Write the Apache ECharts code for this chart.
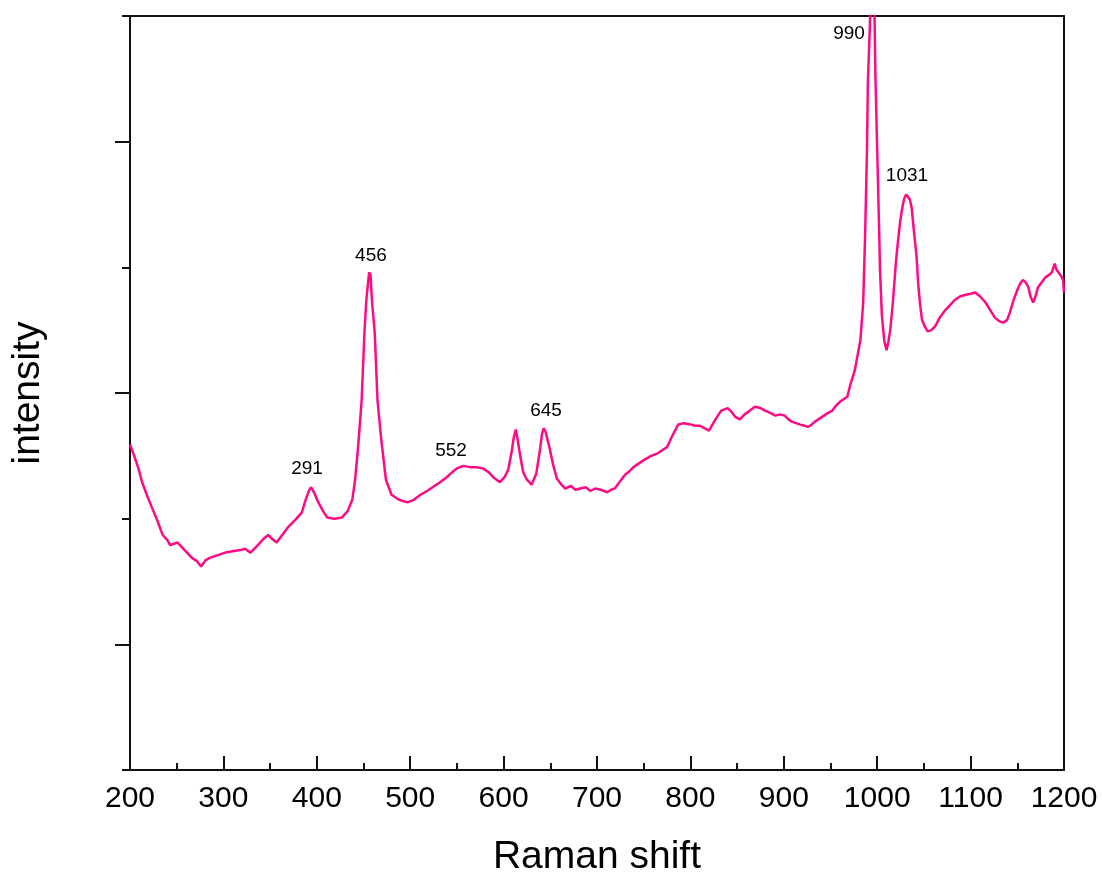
<!DOCTYPE html>
<html>
<head>
<meta charset="UTF-8">
<title>Raman spectrum</title>
<script src="https://cdn.jsdelivr.net/npm/echarts@6/dist/echarts.min.js"></script>
<style>
  html, body { margin: 0; padding: 0; background: #fff; }
  #chart { width: 1102px; height: 874px; }
</style>
</head>
<body>
<div id="chart"></div>
<script>
// Raman shift (cm-1) and intensity (arbitrary units, 0..6 on the plot)
var ramanShift = [200, 205, 209, 213, 219, 224, 229, 235, 240, 243, 247, 251, 256, 261, 266, 272, 276, 281, 286, 294,
  302, 310, 318, 323, 329, 337, 343, 348, 352, 357, 363, 369, 377, 384, 388, 392, 394, 397, 401, 406,
  411, 419, 427, 433, 438, 441, 444, 448, 451, 453, 456, 457.5, 459, 462, 465, 469, 474, 480, 488, 497,
  504, 511, 518, 524, 532, 539, 545, 550, 557, 564, 571, 578, 584, 589, 596, 601, 605, 609, 611, 613,
  615, 618, 621, 625, 630, 635, 639, 641, 643, 645, 649, 653, 657, 662, 666, 672, 677, 682, 688, 693,
  698, 704, 711, 715, 719, 725, 730, 735, 739, 745, 751, 758, 765, 771, 775, 780, 787, 793, 800, 805,
  810, 815, 820, 826, 833, 840, 844, 848, 853, 858, 862, 869, 875, 880, 886, 891, 896, 901, 905, 909,
  913, 917, 922, 926, 930, 933, 937, 941, 947, 952, 956, 960, 964, 968, 971, 976, 982, 985, 987, 989,
  990, 993, 995, 997, 998, 1000, 1002, 1003, 1005, 1007.5, 1010, 1012, 1014, 1017, 1020, 1022, 1024.5, 1027, 1029, 1031,
  1033, 1035, 1037, 1039, 1042, 1044, 1046, 1048, 1051, 1054, 1058, 1062, 1067, 1073, 1078, 1083, 1089, 1094, 1100, 1105,
  1110, 1116, 1121, 1126, 1131, 1135, 1139, 1142, 1146, 1150, 1153, 1156, 1159, 1162, 1164, 1167, 1170, 1172, 1176, 1180,
  1184, 1187, 1190, 1192, 1194, 1197, 1199, 1200];
var intensity = [2.59, 2.49, 2.40, 2.29, 2.17, 2.08, 1.99, 1.87, 1.83, 1.79, 1.80, 1.81, 1.77, 1.73, 1.69, 1.66, 1.62, 1.67, 1.69, 1.71,
  1.73, 1.74, 1.75, 1.76, 1.73, 1.79, 1.84, 1.87, 1.84, 1.81, 1.87, 1.93, 1.99, 2.05, 2.15, 2.23, 2.25, 2.21, 2.14, 2.07,
  2.01, 2.00, 2.01, 2.06, 2.15, 2.31, 2.55, 2.94, 3.48, 3.74, 3.96, 3.94, 3.74, 3.48, 2.94, 2.63, 2.31, 2.19, 2.15, 2.13,
  2.15, 2.19, 2.22, 2.25, 2.29, 2.33, 2.37, 2.40, 2.42, 2.41, 2.41, 2.40, 2.37, 2.33, 2.29, 2.33, 2.39, 2.55, 2.65, 2.71,
  2.63, 2.49, 2.37, 2.31, 2.27, 2.36, 2.55, 2.67, 2.72, 2.69, 2.57, 2.43, 2.32, 2.27, 2.24, 2.26, 2.23, 2.24, 2.25, 2.22,
  2.24, 2.23, 2.21, 2.23, 2.24, 2.30, 2.35, 2.38, 2.41, 2.44, 2.47, 2.50, 2.52, 2.55, 2.57, 2.65, 2.75, 2.76, 2.75, 2.74,
  2.74, 2.72, 2.70, 2.78, 2.86, 2.88, 2.85, 2.81, 2.79, 2.83, 2.85, 2.89, 2.88, 2.86, 2.84, 2.82, 2.83, 2.82, 2.79, 2.77,
  2.76, 2.75, 2.74, 2.73, 2.75, 2.77, 2.79, 2.81, 2.84, 2.86, 2.90, 2.93, 2.95, 2.97, 3.06, 3.18, 3.42, 3.72, 4.24, 4.91,
  5.47, 6.10, 6.60, 6.10, 5.55, 4.93, 4.32, 3.98, 3.62, 3.42, 3.34, 3.41, 3.50, 3.74, 4.04, 4.19, 4.36, 4.48, 4.55, 4.58,
  4.57, 4.54, 4.47, 4.31, 4.10, 3.86, 3.70, 3.58, 3.53, 3.49, 3.50, 3.53, 3.60, 3.66, 3.70, 3.74, 3.77, 3.78, 3.79, 3.80,
  3.77, 3.72, 3.66, 3.60, 3.57, 3.56, 3.58, 3.64, 3.74, 3.82, 3.87, 3.90, 3.88, 3.84, 3.77, 3.72, 3.78, 3.84, 3.88, 3.92,
  3.94, 3.96, 4.03, 3.98, 3.96, 3.93, 3.90, 3.80];

// peak annotations: [x, y, text]
var peakLabels = [
  [389.5, 2.40, '291'],
  [458, 4.09, '456'],
  [543.7, 2.54, '552'],
  [645.4, 2.86, '645'],
  [969.8, 5.86, '990'],
  [1031.9, 4.73, '1031']
];

var xTicks = [200, 300, 400, 500, 600, 700, 800, 900, 1000, 1100, 1200];

var chart = echarts.init(document.getElementById('chart'));
var font = 'Liberation Sans, Arial, sans-serif';
var axisColor = '#111';

var spectrum = ramanShift.map(function (x, i) { return [x, intensity[i]]; });

var option = {
    animation: false,
    backgroundColor: '#fff',
    grid: { left: 130, right: 38, top: 16, bottom: 104, outerBoundsMode: 'none' },
    xAxis: [{
        type: 'value',
        min: 200,
        max: 1200,
        interval: 100,
        name: 'Raman shift',
        nameLocation: 'middle',
        nameGap: 68,
        nameTextStyle: { fontFamily: font, fontSize: 39, color: '#000' },
        axisLine: { show: true, lineStyle: { color: axisColor, width: 2 } },
        axisTick: { show: true, inside: true, length: 14, lineStyle: { color: axisColor, width: 2 } },
        minorTick: { show: true, splitNumber: 2, length: 7, lineStyle: { color: axisColor, width: 2 } },
        axisLabel: {
            margin: 14, fontFamily: font, fontSize: 30, color: '#000',
            formatter: function (v) { return xTicks.indexOf(v) >= 0 ? String(v) : ''; }
        },
        splitLine: { show: false }
    }, {
        type: 'value',
        position: 'top',
        min: 200,
        max: 1200,
        axisLine: { show: true, onZero: false, lineStyle: { color: axisColor, width: 2 } },
        axisTick: { show: false },
        axisLabel: { show: false },
        splitLine: { show: false }
    }],
    yAxis: [{
        type: 'value',
        min: 0,
        max: 6,
        interval: 1,
        name: 'intensity',
        nameLocation: 'middle',
        nameGap: 82,
        nameTextStyle: { fontFamily: font, fontSize: 39, color: '#000' },
        axisLine: { show: true, lineStyle: { color: axisColor, width: 2 } },
        axisTick: { show: true, length: 8, lineStyle: { color: axisColor, width: 2 } },
        axisLabel: { show: false },
        splitLine: { show: false }
    }, {
        type: 'value',
        min: 0,
        max: 6,
        position: 'left',
        axisLine: { show: false },
        axisTick: { show: true, length: 15, customValues: [1, 3, 5], lineStyle: { color: axisColor, width: 2 } },
        axisLabel: { show: false, customValues: [1, 3, 5] },
        splitLine: { show: false }
    }, {
        type: 'value',
        min: 0,
        max: 6,
        position: 'right',
        axisLine: { show: true, onZero: false, lineStyle: { color: axisColor, width: 2 } },
        axisTick: { show: false },
        axisLabel: { show: false },
        splitLine: { show: false }
    }],
    series: [{
        type: 'line',
        data: spectrum,
        showSymbol: false,
        symbol: 'none',
        clip: true,
        lineStyle: { color: '#ff0a84', width: 2.5 },
        z: 3
    }, {
        type: 'scatter',
        data: peakLabels,
        symbolSize: 0,
        itemStyle: { opacity: 1 },
        label: {
            show: true,
            position: 'inside',
            formatter: function (p) { return p.data[2]; },
            fontFamily: font,
            fontSize: 19,
            color: '#000'
        },
        z: 4
    }]
};

chart.setOption(option);
</script>
</body>
</html>
